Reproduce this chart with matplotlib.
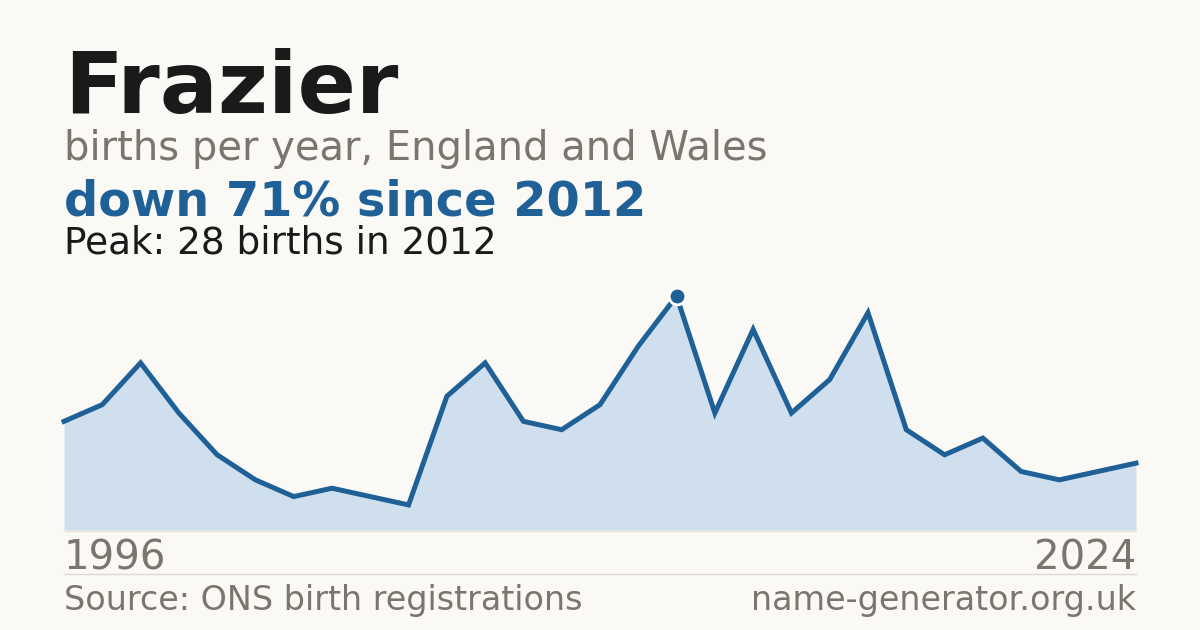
import matplotlib.pyplot as plt

years = list(range(1996, 2025))
births = [13, 15, 20, 14, 9, 6, 4, 5, 4, 3, 16, 20, 13, 12, 15, 22,
          28, 14, 24, 14, 18, 26, 12, 9, 11, 7, 6, 7, 8]

peak_year = 2012
peak_val = 28

bg = '#faf9f5'
blue = '#1f6096'
fill = '#cfdfee'
grey = '#7a756d'
dark = '#1a1a1a'

W, H = 1200, 630
fig = plt.figure(figsize=(12, 6.3), dpi=100)
fig.patch.set_facecolor(bg)

# plot area in pixel terms: x 64..1136, y 296..530
ax = fig.add_axes([64 / W, 1 - 530 / H, (1136 - 64) / W, (530 - 296) / H])
ax.set_facecolor(bg)
ax.fill_between(years, births, 0, color=fill, lw=0)
ax.plot(years, births, color=blue, lw=3.6, solid_joinstyle='miter', clip_on=False)
ax.plot([peak_year], [peak_val], 'o', ms=12, color=blue, mec='white', mew=2, clip_on=False, zorder=5)
ax.set_xlim(years[0], years[-1])
ax.set_ylim(0, peak_val)
ax.axis('off')

def ftext(x, y, s, **kw):
    fig.text(x / W, 1 - y / H, s, **kw)

ftext(64, 113, 'Frazier', fontsize=62, fontweight='bold', color=dark, va='baseline')
ftext(64, 160, 'births per year, England and Wales', fontsize=28.8, color=grey, va='baseline')
ftext(64, 215, 'down 71% since 2012', fontsize=34.5, fontweight='bold', color=blue, va='baseline')
ftext(64, 253, 'Peak: 28 births in 2012', fontsize=26.9, color=dark, va='baseline')

ftext(64, 570, str(years[0]), fontsize=29, color=grey, va='baseline')
ftext(1136, 570, str(years[-1]), fontsize=29, color=grey, va='baseline', ha='right')

# baseline and separator
fig.add_artist(plt.Line2D([64 / W, 1136 / W], [1 - 530.5 / H] * 2, color='#ece3d8', lw=1))
fig.add_artist(plt.Line2D([64 / W, 1136 / W], [1 - 574 / H] * 2, color='#dddad4', lw=1))

ftext(64, 610, 'Source: ONS birth registrations', fontsize=24, color=grey, va='baseline')
ftext(1136, 610, 'name-generator.org.uk', fontsize=24, color=grey, va='baseline', ha='right')

fig.savefig('out.png', dpi=100, facecolor=bg)
